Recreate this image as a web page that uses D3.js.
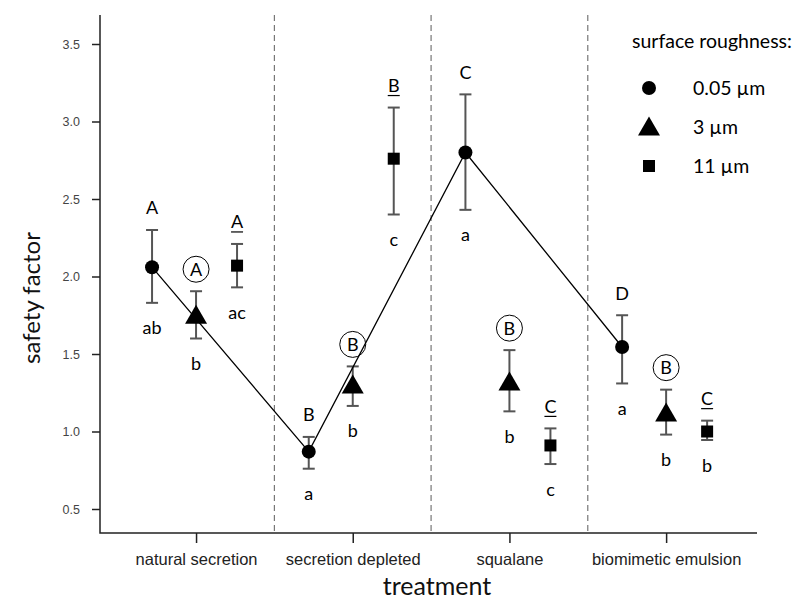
<!DOCTYPE html>
<html>
<head>
<meta charset="utf-8">
<script src="https://cdn.jsdelivr.net/npm/d3@7"></script>
<style>
  html, body { margin: 0; padding: 0; background: #fff; }
  svg { display: block; }
</style>
</head>
<body>
<svg id="chart" width="803" height="599"></svg>
<script>
// ---- data ----
const categories = ["natural secretion", "secretion depleted", "squalane", "biomimetic emulsion"];
const seriesNames = ["0.05 µm", "3 µm", "11 µm"];
const yTicks = [0.5, 1.0, 1.5, 2.0, 2.5, 3.0, 3.5];

const meanSmooth = [2.06, 0.87, 2.80, 1.545];
const loSmooth   = [1.83, 0.76, 2.43, 1.31];
const hiSmooth   = [2.30, 0.965, 3.175, 1.75];

const meanMid = [1.75, 1.30, 1.32, 1.12];
const loMid   = [1.60, 1.165, 1.13, 0.98];
const hiMid   = [1.905, 1.42, 1.525, 1.27];

const meanRough = [2.07, 2.76, 0.91, 1.00];
const loRough   = [1.93, 2.40, 0.79, 0.945];
const hiRough   = [2.21, 3.09, 1.02, 1.07];

const upperSmooth = ["A", "B", "C", "D"];
const upperMid    = ["A", "B", "B", "B"];   // circled
const upperRough  = ["A", "B", "C", "C"];   // underlined
const lowerSmooth = ["ab", "a", "a", "a"];
const lowerMid    = ["b", "b", "b", "b"];
const lowerRough  = ["ac", "c", "c", "b"];

// ---- layout ----
const svg = d3.select("#chart");
const mLeft = 100, mRight = 757, mTop = 15, mBottom = 533;
const x = d3.scaleLinear().domain([0.387, 4.58]).range([mLeft, mRight]);
const y = d3.scaleLinear().domain([0.5, 3.5]).range([509, 44]);

const series = [
  {name: seriesNames[0], mean: meanSmooth, lo: loSmooth, hi: hiSmooth, up: upperSmooth, low: lowerSmooth, shape: "circle", dx: -44, mark: "plain"},
  {name: seriesNames[1], mean: meanMid, lo: loMid, hi: hiMid, up: upperMid, low: lowerMid, shape: "triangle", dx: 0, mark: "circled"},
  {name: seriesNames[2], mean: meanRough, lo: loRough, hi: hiRough, up: upperRough, low: lowerRough, shape: "square", dx: 41, mark: "underline"}
];

const letterFont = "Lato, 'Open Sans', sans-serif";

function drawShape(g, shape, cx, cy) {
  if (shape === "circle") {
    g.append("circle").attr("cx", cx).attr("cy", cy).attr("r", 7).attr("fill", "#000");
  } else if (shape === "triangle") {
    const w = 22, h = 19;
    g.append("path")
      .attr("d", `M${cx},${cy - h * 0.55} L${cx + w / 2},${cy + h * 0.45} L${cx - w / 2},${cy + h * 0.45} Z`)
      .attr("fill", "#000");
  } else {
    g.append("rect").attr("x", cx - 6).attr("y", cy - 6).attr("width", 12).attr("height", 12).attr("fill", "#000");
  }
}

// dashed separators
const sepG = svg.append("g");
[1.5, 2.5, 3.5].forEach(v => {
  sepG.append("line")
    .attr("x1", x(v)).attr("x2", x(v))
    .attr("y1", mTop).attr("y2", mBottom)
    .attr("stroke", "#777").attr("stroke-width", 1.2)
    .attr("stroke-dasharray", "6,4");
});

// axes
const yAxis = d3.axisLeft(y).tickValues(yTicks).tickFormat(d3.format(".1f")).tickSize(8).tickPadding(12);
const yg = svg.append("g").attr("transform", `translate(${mLeft},0)`).call(yAxis);
yg.select(".domain").remove();
yg.selectAll(".tick line").attr("stroke", "#222").attr("stroke-width", 1.5);
yg.selectAll(".tick text").attr("font-family", "'Liberation Sans', Arial, sans-serif").attr("font-size", 12.5).attr("fill", "#444");

const xAxis = d3.axisBottom(x).tickValues([1, 2, 3, 4]).tickFormat((d, i) => categories[i]).tickSize(10).tickPadding(10);
const xg = svg.append("g").attr("transform", `translate(0,${mBottom})`).call(xAxis);
xg.select(".domain").remove();
xg.selectAll(".tick line").attr("stroke", "#222").attr("stroke-width", 1.5);
xg.selectAll(".tick text").attr("font-family", "'Liberation Sans', Arial, sans-serif").attr("font-size", 16.5).attr("fill", "#222");

svg.append("path")
  .attr("d", `M${mLeft},${mTop} L${mLeft},${mBottom} L${mRight},${mBottom}`)
  .attr("fill", "none").attr("stroke", "#222").attr("stroke-width", 1.5);

// axis titles
svg.append("text")
  .attr("transform", `translate(40,${(mTop + mBottom) / 2 + 24}) rotate(-90)`)
  .attr("text-anchor", "middle")
  .attr("font-family", letterFont).attr("font-size", 24).attr("fill", "#111")
  .text("safety factor");
svg.append("text")
  .attr("x", 437).attr("y", 595)
  .attr("text-anchor", "middle")
  .attr("font-family", letterFont).attr("font-size", 25).attr("fill", "#111")
  .text("treatment");

// error bars
const ebG = svg.append("g");
series.forEach(s => {
  categories.forEach((c, i) => {
    const cx = x(i + 1) + s.dx;
    ebG.append("line").attr("x1", cx).attr("x2", cx).attr("y1", y(s.lo[i])).attr("y2", y(s.hi[i]))
      .attr("stroke", "#555").attr("stroke-width", 2);
    [s.lo[i], s.hi[i]].forEach(v => {
      ebG.append("line").attr("x1", cx - 6).attr("x2", cx + 6).attr("y1", y(v)).attr("y2", y(v))
        .attr("stroke", "#555").attr("stroke-width", 2);
    });
  });
});

// connecting line through smooth-surface means
const line = d3.line().x((d, i) => x(i + 1) + series[0].dx).y(d => y(d));
svg.append("path").attr("d", line(meanSmooth)).attr("fill", "none").attr("stroke", "#000").attr("stroke-width", 1.3);

// markers
const mG = svg.append("g");
series.forEach(s => {
  categories.forEach((c, i) => drawShape(mG, s.shape, x(i + 1) + s.dx, y(s.mean[i])));
});

// letters
const lG = svg.append("g").attr("font-family", letterFont).attr("font-size", 18).attr("fill", "#000").attr("text-anchor", "middle");
series.forEach(s => {
  categories.forEach((c, i) => {
    const cx = x(i + 1) + s.dx;
    const yu = y(s.hi[i]) - 22;
    lG.append("text").attr("x", cx).attr("y", yu).attr("dy", "0.36em").text(s.up[i]);
    if (s.mark === "circled") {
      lG.append("circle").attr("cx", cx).attr("cy", yu).attr("r", 13)
        .attr("fill", "none").attr("stroke", "#000").attr("stroke-width", 1);
    } else if (s.mark === "underline") {
      lG.append("line").attr("x1", cx - 6).attr("x2", cx + 6).attr("y1", yu + 10).attr("y2", yu + 10)
        .attr("stroke", "#000").attr("stroke-width", 1.2);
    }
    lG.append("text").attr("x", cx).attr("y", y(s.lo[i]) + 25).attr("dy", "0.36em").text(s.low[i]);
  });
});

// legend
const lg = svg.append("g").attr("font-family", letterFont).attr("fill", "#000");
lg.append("text").attr("x", 632).attr("y", 48).attr("font-size", 19.5).text("surface roughness:");
series.forEach((s, i) => {
  const cy = 88 + i * 39;
  drawShape(lg, s.shape, 649, cy);
  lg.append("text").attr("x", 693).attr("y", cy).attr("dy", "0.36em").attr("font-size", 19.5).text(s.name);
});
</script>
</body>
</html>
